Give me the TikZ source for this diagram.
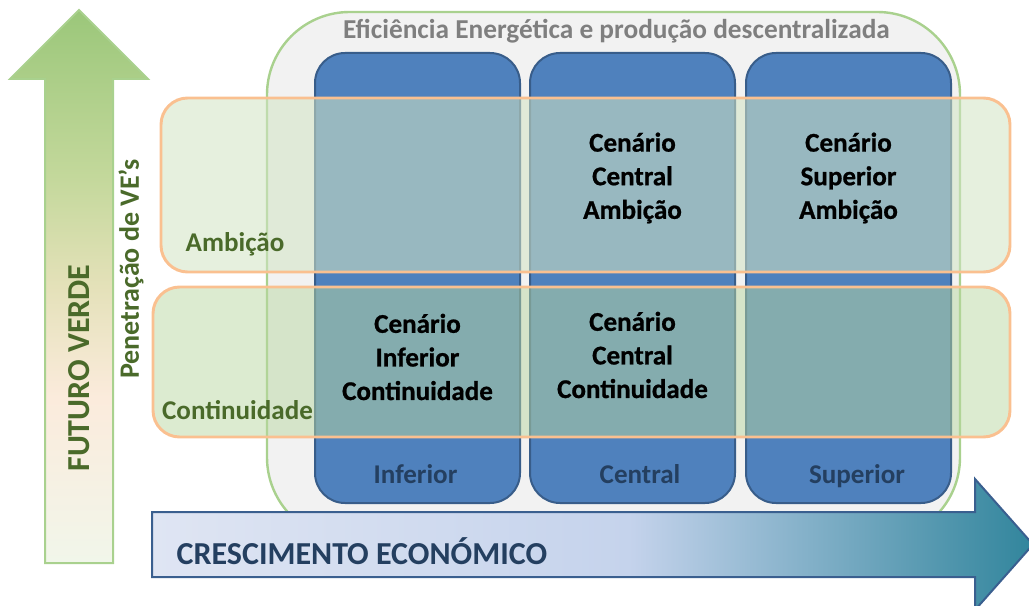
\documentclass[tikz,border=0pt]{standalone}
\usepackage{fontspec}
\setmainfont{Carlito}
\newfontfamily\cellfont{Carlito}[BoldFeatures={FakeBold=0.8}]
\definecolor{boxfill}{HTML}{F2F2F2}
\definecolor{boxborder}{HTML}{A9D18E}
\definecolor{colfill}{HTML}{4F81BD}
\definecolor{colborder}{HTML}{385D8A}
\definecolor{rowborder}{HTML}{FAC090}
\definecolor{rowAfill}{RGB}{210,228,196}
\definecolor{rowBfill}{RGB}{185,215,161}
\definecolor{titlegray}{HTML}{7F7F7F}
\definecolor{darkgreen}{HTML}{4A6A2A}
\definecolor{darkblue}{HTML}{243F60}
\definecolor{arrowborder}{HTML}{3A5F8F}
\definecolor{gbot}{RGB}{241,246,234}
\definecolor{gpeach}{RGB}{251,235,220}
\definecolor{gbeige}{RGB}{228,225,185}
\definecolor{glight}{RGB}{195,216,155}
\definecolor{gtop}{RGB}{155,199,122}
\definecolor{bleft}{RGB}{223,229,243}
\definecolor{bmid}{RGB}{197,211,236}
\definecolor{bright}{RGB}{49,133,156}
\pgfdeclareverticalshading{greenarrowshade}{100bp}{color(0bp)=(gbot); color(25bp)=(gbot); color(40bp)=(gpeach); color(50bp)=(gbeige); color(60bp)=(glight); color(75bp)=(gtop); color(100bp)=(gtop)}
\pgfdeclarehorizontalshading{bluearrowshade}{100bp}{color(0bp)=(bleft); color(25bp)=(bleft); color(52bp)=(bmid); color(75bp)=(bright); color(100bp)=(bright)}
\begin{document}
\begin{tikzpicture}[x=0.75pt,y=-0.75pt,
  bigbox/.style={draw=boxborder, line width=1.8pt, fill=boxfill, rounded corners=62pt},
  colbox/.style={draw=colborder, line width=1.5pt, fill=colfill, rounded corners=22.5pt},
  rowbox/.style={draw=rowborder, line width=2.2pt, rounded corners=20pt},
  celltext/.style={font=\cellfont\fontsize{20.3}{25.2}\selectfont\bfseries, align=center, text=black},
  coltext/.style={font=\fontsize{20.3}{25.2}\selectfont\bfseries, text=darkblue, anchor=base},
  rowtext/.style={font=\fontsize{20.3}{25.2}\selectfont\bfseries, text=darkgreen},
  bigtext/.style={font=\fontsize{24}{29}\selectfont\bfseries}]
\useasboundingbox (0,0) rectangle (1029,606);
% green vertical arrow
\draw[draw=boxborder, line width=1.5pt, shading=greenarrowshade]
  (45,563) -- (45,79) -- (10,79) -- (79,10) -- (148,79) -- (113,79) -- (113,563) -- cycle;
% outer box
\draw[bigbox] (267,12) rectangle (960,540);
% columns
\draw[colbox] (315,53) rectangle (520,503);
\draw[colbox] (530,53) rectangle (735,503);
\draw[colbox] (746,53) rectangle (951,503);
% rows
\draw[rowbox, fill=rowAfill, fill opacity=0.56] (161,98) rectangle (1010,272);
\draw[rowbox, fill=rowBfill, fill opacity=0.5] (153,287) rectangle (1010,437);
% blue horizontal arrow
\draw[draw=arrowborder, line width=1.5pt, shading=bluearrowshade]
  (152,512) -- (975,512) -- (975,479) -- (1033,544.5) -- (975,610) -- (975,577) -- (152,577) -- cycle;
% texts
\node[font=\fontsize{20.5}{25.2}\selectfont\bfseries, text=titlegray, anchor=base] (title) at (616.5,39) {Eficiência Energética e produção descentralizada};
\node[celltext] (cca) at (632.5,178) {Cenário\\Central\\Ambição};
\node[celltext] (csa) at (848.5,178) {Cenário\\Superior\\Ambição};
\node[celltext] (cic) at (417.5,357) {Cenário\\Inferior\\Continuidade};
\node[celltext] (ccc) at (632.5,355) {Cenário\\Central\\Continuidade};
\node[coltext] (linf) at (415.5,483) {Inferior};
\node[coltext] (lcen) at (640,483) {Central};
\node[coltext] (lsup) at (857,483) {Superior};
\node[rowtext] (lamb) at (235,244) {Ambição};
\node[rowtext] (lcon) at (237.5,410) {Continuidade};
\node[rowtext, rotate=90, font=\fontsize{21}{25.2}\selectfont\bfseries] (lpen) at (131,269) {Penetração de VE’s};
\node[bigtext, text=darkgreen, rotate=90] (lfut) at (79,368) {FUTURO VERDE};
\node[bigtext, text=darkblue, anchor=west] (lcre) at (172,551) {CRESCIMENTO ECONÓMICO};
\end{tikzpicture}
\end{document}
